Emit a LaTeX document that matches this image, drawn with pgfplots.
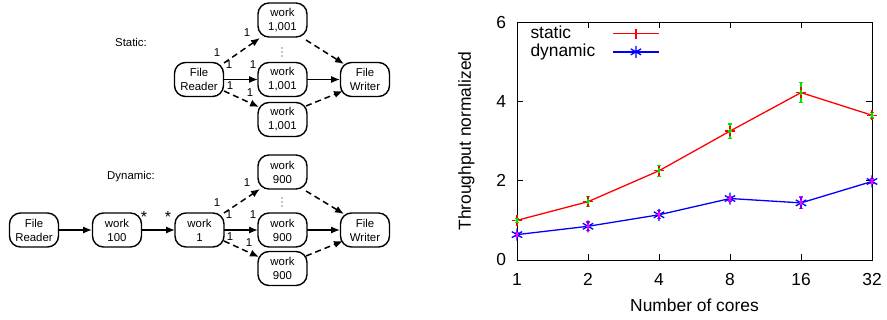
\documentclass[border=0pt]{standalone}
\usepackage{fontspec}
\setmainfont{Liberation Sans}
\usepackage{pgfplots}
\pgfplotsset{compat=1.18}
\usetikzlibrary{arrows.meta}
\definecolor{gpred}{RGB}{255,0,0}
\definecolor{gpgreen}{RGB}{0,230,0}
\definecolor{gpblue}{RGB}{0,0,255}
\definecolor{gpmag}{RGB}{255,0,255}
\begin{document}
\begin{tikzpicture}[x=0.5pt,y=-0.5pt,
  box/.style={draw, line width=0.7pt, rounded corners=5.5pt, minimum width=24.5pt, minimum height=17pt, inner sep=0pt, align=center, font=\fontsize{5.7}{7}\selectfont},
  lab/.style={font=\fontsize{5.7}{7}\selectfont, inner sep=0pt},
  ar/.style={line width=0.75pt, -{Latex[length=4.5pt,width=3.6pt]}},
  da/.style={ar, dash pattern=on 3pt off 2pt}]
\path[use as bounding box] (0,0) rectangle (887,320);
% ---------- Static ----------
\node[lab] at (131,42) {Static:};
\node[box] at (199,79.5) {File\\Reader};
\node[box] at (282.5,20) {work\\1,001};
\node[box] at (282.5,79.5) {work\\1,001};
\node[box] at (282.5,119.5) {work\\1,001};
\node[box] at (365,79.5) {File\\Writer};
\foreach \yy in {48,52,56} \fill (282,\yy) circle (0.3pt);
\draw[da] (224,63) -- (260,38);
\draw[ar] (223,79.5) -- (258,79.5);
\draw[da] (224,91) -- (259,107);
\draw[da] (306,40) -- (344,64);
\draw[ar] (307,79.5) -- (340,79.5);
\draw[da] (306,106) -- (343,91);
\node[lab] at (247,33) {1};
\node[lab] at (217,53) {1};
\node[lab] at (229,65) {1};
\node[lab] at (253,65) {1};
\node[lab] at (230,86) {1};
\node[lab] at (250,93) {1};
% ---------- Dynamic ----------
\node[lab] at (131,177) {Dynamic:};
\node[box] at (34,230) {File\\Reader};
\node[box] at (117,230) {work\\100};
\node[box] at (199.5,230) {work\\1};
\node[box] at (282.5,172) {work\\900};
\node[box] at (282.5,230) {work\\900};
\node[box] at (282.5,268.5) {work\\900};
\node[box] at (365,230) {File\\Writer};
\foreach \yy in {198,202,206} \fill (282,\yy) circle (0.3pt);
\draw[ar] (59,230) -- (92,230);
\draw[ar] (142,230) -- (175,230);
\draw[da] (224,213) -- (260,189);
\draw[ar] (224,230) -- (258,230);
\draw[da] (224,241) -- (259,257);
\draw[da] (306,191) -- (344,214);
\draw[ar] (307,230) -- (340,230);
\draw[da] (306,256) -- (343,241);
\node[lab, font=\fontsize{8}{8}\selectfont] at (144,217) {*};
\node[lab, font=\fontsize{8}{8}\selectfont] at (168,217) {*};
\node[lab] at (247,183) {1};
\node[lab] at (217,203) {1};
\node[lab] at (229,215) {1};
\node[lab] at (253,215) {1};
\node[lab] at (230,237) {1};
\node[lab] at (249,243) {1};
% ---------- Chart ----------
\begin{axis}[at={(258.5pt,-130pt)}, anchor=south west,
  scale only axis, width=177.5pt, height=119pt,
  xmin=0, xmax=5, ymin=0, ymax=6,
  xtick={0,1,2,3,4,5}, xticklabels={1,2,4,8,16,32},
  ytick={0,2,4,6},
  tick align=inside, major tick length=3pt,
  axis line style={line width=0.5pt},
  every tick/.style={black, line width=0.5pt},
  /pgf/number format/assume math mode=true,
  ticklabel style={font=\fontsize{8.7}{10}\selectfont},
  x tick label style={yshift=-3pt},
  y tick label style={xshift=-2pt},
  xlabel={Number of cores}, ylabel={Throughput normalized},
  label style={font=\fontsize{8.7}{10}\selectfont},
  ylabel style={yshift=4pt},
  clip=false,
  legend plot pos=right,
  legend cell align=left,
  legend style={at={(0.02,1.01)}, anchor=north west, draw=none, fill=none,
    font=\fontsize{8.7}{10}\selectfont, row sep=-2.8pt, column sep=6.5pt, inner sep=1pt},
  legend image code/.code={\draw[mark repeat=2,mark phase=2,#1] plot coordinates {(0pt,0pt) (11.5pt,0pt) (23pt,0pt)};},
]
\addplot[gpred, line width=0.65pt, mark=+, mark size=2.6pt, mark options={solid, line width=0.65pt}]
  coordinates {(0,1.00) (1,1.47) (2,2.25) (3,3.25) (4,4.22) (5,3.65)};
\addlegendentry{static}
\addplot[gpblue, line width=0.65pt, mark=asterisk, mark size=3pt, mark options={solid, line width=0.65pt}]
  coordinates {(0,0.64) (1,0.85) (2,1.14) (3,1.55) (4,1.44) (5,1.98)};
\addlegendentry{dynamic}
\addplot[forget plot, only marks, gpgreen, mark=+, mark size=1.2pt, mark options={line width=0.6pt},
  error bars/.cd, y dir=both, y explicit, error mark options={rotate=90, mark size=1.2pt, line width=0.6pt, gpgreen},
  error bar style={line width=0.6pt, gpgreen}]
  coordinates {(0,1.00) +- (0,0.05) (1,1.47) +- (0,0.13) (2,2.25) +- (0,0.14) (3,3.25) +- (0,0.18) (4,4.22) +- (0,0.25) (5,3.65) +- (0,0.07)};
\addplot[forget plot, only marks, gpmag, mark=+, mark size=1.2pt, mark options={line width=0.6pt},
  error bars/.cd, y dir=both, y explicit, error mark options={rotate=90, mark size=1.2pt, line width=0.6pt, gpmag},
  error bar style={line width=0.6pt, gpmag}]
  coordinates {(0,0.64) +- (0,0.04) (1,0.85) +- (0,0.11) (2,1.14) +- (0,0.10) (3,1.55) +- (0,0.06) (4,1.44) +- (0,0.15) (5,1.98) +- (0,0.06)};
\end{axis}
\end{tikzpicture}
\end{document}
